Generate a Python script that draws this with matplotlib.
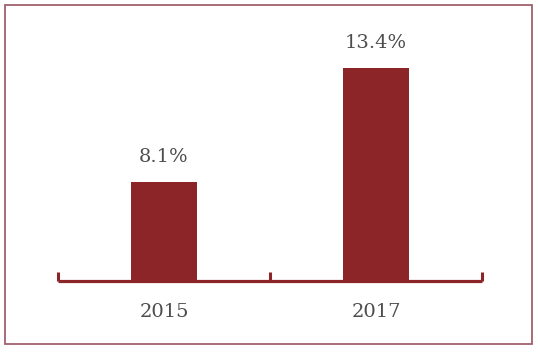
import matplotlib
matplotlib.use("Agg")
import matplotlib.pyplot as plt
from matplotlib.patches import Rectangle

years = ["2015", "2017"]
values = [8.1, 13.4]
labels = ["8.1%", "13.4%"]

bar_color = "#8b2527"
text_color = "#4d4d4d"

fig = plt.figure(figsize=(5.4, 3.53), dpi=100)
ax = fig.add_axes([58 / 540, 1 - 281 / 353, (482 - 58) / 540, (281 - 20) / 353])

x = list(range(len(years)))
ax.bar(x, values, width=0.31, color=bar_color, zorder=2)

for xi, v, lab in zip(x, values, labels):
    ax.annotate(lab, (xi, v), xytext=(0, 14.5), textcoords="offset points",
                ha="center", va="baseline", fontsize=14, color=text_color,
                family="DejaVu Serif")

ax.set_xlim(-0.5, 1.5)
ax.set_ylim(3.5, 15.64)

for s in ["top", "right", "left"]:
    ax.spines[s].set_visible(False)
ax.spines["bottom"].set_color(bar_color)
ax.spines["bottom"].set_linewidth(2.3)
ax.spines["bottom"].set_capstyle("butt")

ax.set_yticks([])
ax.set_xticks([-0.5, 0.5, 1.5])
ax.set_xticklabels([])
ax.tick_params(axis="x", which="major", direction="in", length=6.5, width=2.2, color=bar_color)
ax.set_xticks(x, minor=True)
ax.set_xticklabels(years, minor=True, fontsize=14, color=text_color, family="DejaVu Serif")
ax.tick_params(axis="x", which="minor", length=0, pad=16)

fig.patches.append(Rectangle((5 / 540, 1 - 344 / 353), 527 / 540, 339 / 353,
                             transform=fig.transFigure, fill=False,
                             edgecolor="#a0606c", linewidth=1.3))

fig.savefig("out.png", dpi=100)
